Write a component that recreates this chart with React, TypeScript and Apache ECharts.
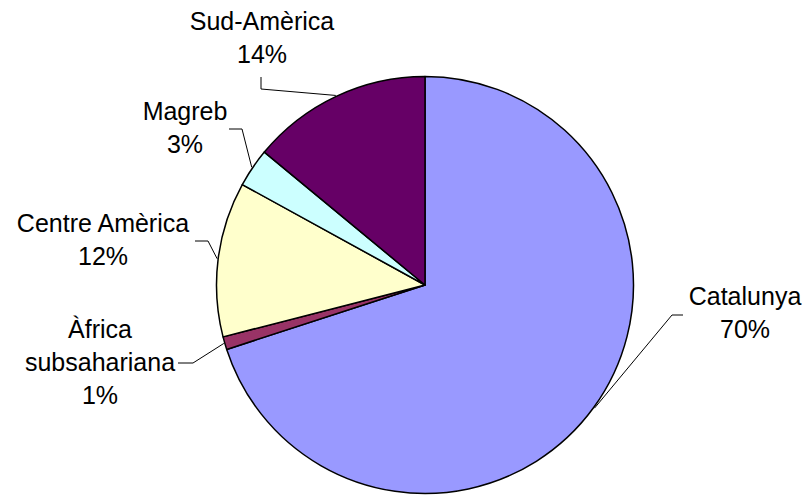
import React, { useEffect, useRef } from "react";
import * as echarts from "echarts";

const categories = ["Catalunya", "Àfrica subsahariana", "Centre Amèrica", "Magreb", "Sud-Amèrica"];
const labelNames = ["Catalunya", "Àfrica\nsubsahariana", "Centre Amèrica", "Magreb", "Sud-Amèrica"];
const values = [70, 1, 12, 3, 14];
const colors = ["#9999FF", "#993366", "#FFFFCC", "#CCFFFF", "#660066"];

// layout (px): label block centre, leader elbow, leader end near label
const CX = 425;
const CY = 285;
const R = 208.5;
const labelLayouts = [
  { x: 745, y: 312.5, elbow: [672, 315], end: [683, 315] },
  { x: 100, y: 362, elbow: [193, 363], end: [178, 363] },
  { x: 103, y: 239, elbow: [208, 241], end: [195, 241] },
  { x: 185, y: 127.5, elbow: [242, 129], end: [229, 129] },
  { x: 262, y: 37.5, elbow: [261, 89], end: [261, 77] },
];

export default function App() {
  const ref = useRef<HTMLDivElement>(null);
  useEffect(() => {
    if (!ref.current) return;
    const chart = echarts.init(ref.current, null, { renderer: "svg" });
    const total = values.reduce((a, b) => a + b, 0);
    const midAngles: number[] = [];
    let acc = 0;
    values.forEach((v) => {
      midAngles.push(((acc + v / 2) / total) * 2 * Math.PI);
      acc += v;
    });
    chart.setOption({
      animation: false,
      backgroundColor: "#ffffff",
      series: [
        {
          type: "pie",
          center: [CX, CY],
          radius: R,
          startAngle: 90,
          clockwise: true,
          avoidLabelOverlap: false,
          silent: true,
          data: categories.map((c, i) => ({
            name: c,
            value: values[i],
            itemStyle: { color: colors[i] },
          })),
          itemStyle: { borderColor: "#000000", borderWidth: 1.5 },
          label: {
            show: true,
            position: "outside",
            formatter: (p: any) => `${labelNames[p.dataIndex]}\n${Math.round(p.percent)}%`,
            fontFamily: "Liberation Sans, Arial, sans-serif",
            fontSize: 25,
            lineHeight: 33,
            color: "#000000",
            align: "center",
          },
          labelLine: {
            show: true,
            length: 10,
            length2: 10,
            smooth: false,
            lineStyle: { color: "#000000", width: 1 },
          },
          labelLayout: (params: any) => {
            const i = params.dataIndex;
            const l = labelLayouts[i];
            const a = midAngles[i];
            const p0 = [CX + (R + 1) * Math.sin(a), CY - (R + 1) * Math.cos(a)];
            return {
              x: l.x,
              y: l.y,
              align: "center",
              verticalAlign: "middle",
              labelLinePoints: [p0, l.elbow, l.end],
            };
          },
          emphasis: { disabled: true },
        },
      ],
    });
    return () => chart.dispose();
  }, []);
  return (
    <div
      ref={ref}
      style={{ position: "absolute", left: 0, top: 0, width: 807, height: 495 }}
    />
  );
}
